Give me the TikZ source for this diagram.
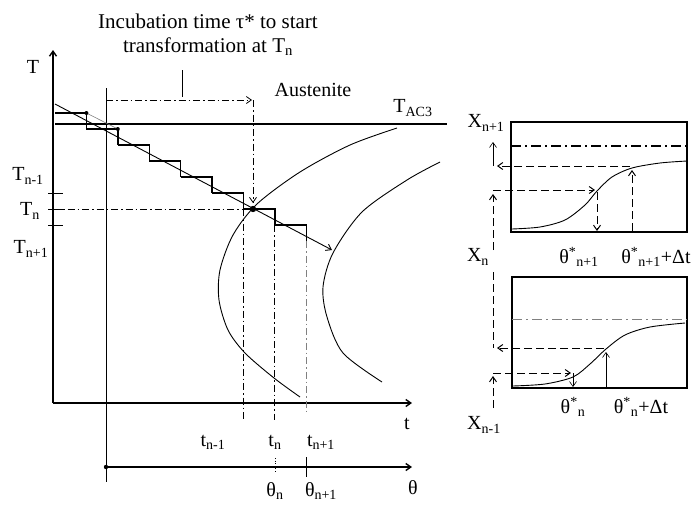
\documentclass[tikz,border=0pt]{standalone}
\usepackage{fontspec}
\setmainfont{Liberation Serif}
\usetikzlibrary{arrows.meta}

\begin{document}
\begin{tikzpicture}[
  x=1pt, y=-1pt,
  >={Straight Barb[length=5pt,width=7pt]},
  every node/.style={inner sep=1pt, font=\fontsize{20}{22}\selectfont},
  axis/.style={line width=1.4pt},
  stair/.style={line width=1.4pt},
  curve/.style={line width=0.9pt},
  thinline/.style={line width=0.6pt},
  dashdot/.style={line width=0.8pt, dash pattern=on 7pt off 3pt on 1.5pt off 3pt},
  dashline/.style={line width=1pt, dash pattern=on 8pt off 4pt}
]
  \useasboundingbox (0,0) rectangle (694,504);

  % axes T, t and theta
  \coordinate (O) at (53,403);
  \coordinate (Ttop) at (53,50);
  \coordinate (tend) at (412,403);
  \coordinate (thst) at (106,467);
  \coordinate (thend) at (412,467);
  \draw[axis,->] (O) -- (Ttop);
  \draw[axis,->] (O) -- (tend);
  \draw[axis,->] (thst) -- (thend);
  \fill (thst) circle (2.2pt);
  \node (Tlab) at (33,67) {T};
  \node (tlab) at (407,424) {t};
  \node[anchor=base] (thlab) at (413,494) {θ};

  % start of cooling
  \draw[thinline] (106,88) -- (106,482);

  % A_C3 level
  \draw[axis] (55,124) -- (447,124);
  \node (tac) at (413,108) {T\textsubscript{AC3}};
  \node (aus) at (313,90) {Austenite};

  % incubation time
  \node[align=center, font=\fontsize{21}{24}\selectfont] (incub) at (208,35)
    {Incubation time τ* to start\\transformation at T\textsubscript{n}};
  \draw[thinline] (182,70) -- (182,97);
  \draw[dashdot,->] (106,100) -- (252,100);
  \draw[dashdot,->] (253,100) -- (253,203);

  % cooling path and staircase
  \draw[curve,->] (55,104) -- (332,250);
  \foreach \i in {0,...,7}{
    \pgfmathsetmacro{\xa}{55+31.4*\i}
    \pgfmathsetmacro{\xb}{55+31.4*(\i+1)}
    \pgfmathsetmacro{\ya}{113+16*\i}
    \pgfmathsetmacro{\yb}{113+16*(\i+1)}
    \draw[stair] (\xa,\ya) -- (\xb,\ya) -- (\xb,\yb);
  }
  \coordinate (d1) at (86.4,113);
  \coordinate (d2) at (117.8,129);
  \coordinate (dn) at (253,209);
  \draw[thinline, gray] (d1) -- (d2);
  \foreach \p in {d1,d2}{\fill (\p) circle (2pt);}
  \fill (dn) circle (3.2pt);

  % temperature levels
  \foreach \y in {193,209,225}{\draw[thinline] (48,\y) -- (63,\y);}
  \node (Tm) at (28,176) {T\textsubscript{n-1}};
  \node (Tn) at (30,211) {T\textsubscript{n}};
  \node (Tp) at (31,249) {T\textsubscript{n+1}};
  \draw[dashdot] (53,209) -- (243,209);

  % time steps
  \draw[dashdot] (243.4,209) -- (243.4,420);
  \draw[dashdot] (274.8,225) -- (274.8,420);
  \draw[dashdot, gray] (306.2,241) -- (306.2,415);
  \draw[thinline, dotted] (274.8,458) -- (274.8,473);
  \draw[thinline] (306.2,457) -- (306.2,477);
  \node (tm) at (213,442) {t\textsubscript{n-1}};
  \node (tn) at (275,442) {t\textsubscript{n}};
  \node (tp) at (321,442) {t\textsubscript{n+1}};
  \node[anchor=base] (thn) at (275,496) {θ\textsubscript{n}};
  \node[anchor=base] (thp) at (321,496) {θ\textsubscript{n+1}};

  % transformation start and finish
  \draw[curve] plot[smooth] coordinates {(397,128) (350,145) (300,172) (257,204)
    (233,235) (220,270) (219,300) (228,330) (245,353) (274,378) (300,397)};
  \draw[curve] plot[smooth] coordinates {(440,162) (407,180) (362,212) (333,253)
    (323,287) (327,317) (343,353) (382,382)};

  % upper kinetics box
  \draw[line width=1.2pt] (511,122) rectangle (687,232);
  \draw[line width=1.2pt, dash pattern=on 10pt off 4pt on 2pt off 4pt] (511,146) -- (687,146);
  \draw[curve] plot[smooth] coordinates {(512,229) (540,227) (565,220) (585,205)
    (597,191) (612,177) (632,168) (660,163) (687,161)};
  \draw[dashline,->] (493,250) -- (493,194);
  \draw[dashline,->] (493,190) -- (595,190);
  \draw[dashline,->] (597,192) -- (597,231);
  \draw[dashline,->] (632,231) -- (632,170);
  \draw[dashline,->] (630,166) -- (497,166);
  \draw[thinline,->] (493,166) -- (493,142);
  \node (Xp) at (486,123) {X\textsubscript{n+1}};
  \node (Xn) at (478,257) {X\textsubscript{n}};
  \node (thsp) at (579,257) {θ\textsuperscript{*}\textsubscript{n+1}};
  \node (thsdp) at (656,257) {θ\textsuperscript{*}\textsubscript{n+1}+Δt};

  % lower kinetics box
  \draw[line width=1.2pt] (512,277) rectangle (687,388);
  \draw[thinline, gray, dash pattern=on 10pt off 4pt on 2pt off 4pt] (512,319) -- (687,319);
  \draw[curve] plot[smooth] coordinates {(513,386) (545,384) (573,377) (590,364)
    (606,349) (625,335) (650,327) (685,323)};
  \draw[dashline] (493,272) -- (493,348);
  \draw[dashline,->] (604,348) -- (497,348);
  \draw[thinline,->] (606,388) -- (606,352);
  \draw[dashline,->] (493,408) -- (493,376);
  \draw[dashline,->] (493,373) -- (571,373);
  \draw[thinline,->] (573,373) -- (573,387);
  \node (Xm) at (484,425) {X\textsubscript{n-1}};
  \node (thsn) at (573,407) {θ\textsuperscript{*}\textsubscript{n}};
  \node (thsdn) at (641,407) {θ\textsuperscript{*}\textsubscript{n}+Δt};
\end{tikzpicture}
\end{document}
